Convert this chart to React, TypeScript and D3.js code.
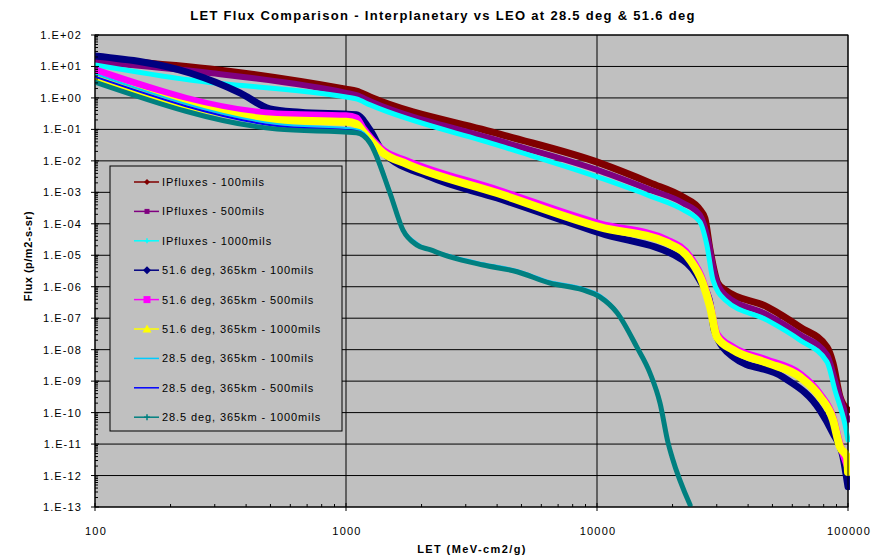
import React from 'react';
import * as d3 from 'd3';

type Pt = [number, number];

// LET (MeV-cm2/g) vs integral flux (p/m2-s-sr)
const ipFlux100: Pt[] = [
  [100, 17.4], [287, 8.3], [1000, 1.9], [1100, 1.66], [1247, 1.07], [4100, 7.1e-2],
  [10280, 8.5e-3], [16300, 2.0e-3], [22000, 7.1e-4], [25700, 2.8e-4], [26900, 1.5e-4],
  [28200, 1.5e-5], [30300, 1.3e-6], [32400, 7.9e-7], [47600, 2.3e-7], [64400, 5.2e-8],
  [82500, 1.2e-8], [87100, 3.8e-9], [92900, 3.2e-10], [100000, 1.2e-10],
];
const ipFlux500: Pt[] = [
  [100, 13.8], [287, 6.2], [1000, 1.45], [1100, 1.23], [1247, 0.79], [4100, 4.3e-2],
  [10280, 4.8e-3], [16300, 1.2e-3], [22000, 4.6e-4], [25700, 1.9e-4], [27700, 3.1e-5],
  [29500, 2.3e-6], [32400, 5.5e-7], [47600, 1.3e-7], [64400, 3.0e-8], [82500, 6.8e-9],
  [88700, 1.1e-9], [94600, 2.0e-10], [100000, 5.9e-11],
];
const ipFlux1000: Pt[] = [
  [100, 11.2], [239, 3.7], [1000, 1.07], [1100, 0.93], [1247, 0.6], [4100, 3.0e-2],
  [10280, 2.9e-3], [16300, 7.6e-4], [22000, 2.8e-4], [25700, 1.15e-4], [27400, 2.1e-5],
  [29000, 1.6e-6], [32400, 3.8e-7], [47600, 8.7e-8], [64400, 2.0e-8], [82500, 4.1e-9],
  [88700, 5.2e-10], [97300, 4.1e-11], [100000, 1.35e-11],
];
const leo516_100: Pt[] = [
  [100, 21.4], [239, 6.2], [378, 1.45], [498, 0.45], [656, 0.35], [1100, 0.29],
  [1247, 9.5e-2], [1404, 1.9e-2], [2161, 3.1e-3], [4000, 6.6e-4], [10280, 5.1e-5],
  [22000, 7.1e-6], [25700, 1.6e-6], [28200, 3.0e-7], [29300, 4.3e-8], [34800, 5.9e-9],
  [55100, 1.35e-9], [77300, 1.2e-10], [87100, 2.2e-11], [95500, 3.9e-12], [100000, 4.4e-13],
];
const leo516_500: Pt[] = [
  [100, 7.8], [531, 0.31], [1000, 0.27], [1100, 0.23], [1169, 1.1e-1], [1404, 2.2e-2],
  [1750, 1.0e-2], [4000, 1.2e-3], [10280, 1.0e-4], [19000, 3.1e-5], [23500, 8.9e-6],
  [26400, 1.6e-6], [28200, 2.8e-7], [30060, 3.2e-8], [34800, 1.2e-8], [47600, 4.7e-9],
  [64400, 1.7e-9], [77300, 3.9e-10], [87100, 7.2e-11], [92900, 1.0e-11], [100000, 1.7e-12],
];
const leo516_1000: Pt[] = [
  [100, 4.3], [531, 0.2], [1000, 0.174], [1100, 0.148], [1169, 8.5e-2], [1404, 1.8e-2],
  [1750, 7.9e-3], [4000, 9.5e-4], [10280, 7.9e-5], [19000, 2.5e-5], [23500, 7.1e-6],
  [26400, 1.3e-6], [28200, 2.3e-7], [30060, 2.5e-8], [34800, 9.8e-9], [47600, 3.8e-9],
  [64400, 1.35e-9], [77300, 3.2e-10], [87100, 5.9e-11], [92900, 8.1e-12], [99100, 3.9e-12],
  [100000, 1.3e-12],
];
const leo285_100: Pt[] = [
  [100, 5.8], [531, 0.148], [1100, 0.102], [1247, 4.6e-2], [1497, 1.2e-3], [1687, 7.4e-5],
  [1918, 2.5e-5], [2595, 1.0e-5], [3516, 5.6e-6], [4800, 3.4e-6], [6500, 1.5e-6],
  [8790, 9.1e-7], [10280, 5.5e-7], [12020, 1.7e-7], [14420, 1.4e-8], [16260, 2.1e-9],
  [17830, 2.3e-10], [18500, 4.1e-11],
];
const leo285_500: Pt[] = [
  [100, 4.7], [531, 0.129], [1100, 8.9e-2], [1247, 4.3e-2], [1497, 1.1e-3], [1687, 6.9e-5],
  [1918, 2.3e-5], [2595, 9.5e-6], [3516, 5.2e-6], [4800, 3.2e-6], [6500, 1.4e-6],
  [8790, 8.5e-7], [10280, 5.1e-7], [12020, 1.6e-7], [14420, 1.3e-8], [16260, 1.95e-9],
  [17830, 2.2e-10], [19190, 1.2e-11], [19900, 3.9e-12],
];
const leo285_1000: Pt[] = [
  [100, 3.2], [531, 0.102], [1100, 7.8e-2], [1247, 3.7e-2], [1497, 9.5e-4], [1687, 6.3e-5],
  [1918, 2.1e-5], [2161, 1.5e-5], [2595, 8.9e-6], [3516, 4.9e-6], [4800, 3.0e-6],
  [6500, 1.3e-6], [8790, 7.9e-7], [10280, 4.7e-7], [12020, 1.5e-7], [14420, 1.2e-8],
  [16260, 1.8e-9], [17830, 2.0e-10], [19190, 1.1e-11], [19900, 3.9e-12], [23500, 1.15e-13],
];

const seriesNames = [
  'IPfluxes - 100mils',
  'IPfluxes - 500mils',
  'IPfluxes - 1000mils',
  '51.6 deg, 365km - 100mils',
  '51.6 deg, 365km - 500mils',
  '51.6 deg, 365km - 1000mils',
  '28.5 deg, 365km - 100mils',
  '28.5 deg, 365km - 500mils',
  '28.5 deg, 365km - 1000mils',
];
const seriesData = [
  ipFlux100, ipFlux500, ipFlux1000,
  leo516_100, leo516_500, leo516_1000,
  leo285_100, leo285_500, leo285_1000,
];

const xTickValues = [100, 1000, 10000, 100000];
const xTickLabels = ['100', '1000', '10000', '100000'];
const yExponents = [2, 1, 0, -1, -2, -3, -4, -5, -6, -7, -8, -9, -10, -11, -12, -13];

type Style = { color: string; width: number; marker: string; msize: number };
const styles: Style[] = [
  { color: '#800000', width: 7, marker: 'diamond', msize: 6 },
  { color: '#800080', width: 6, marker: 'square', msize: 5 },
  { color: '#00FFFF', width: 5, marker: 'plus', msize: 5 },
  { color: '#000080', width: 7, marker: 'diamond', msize: 8 },
  { color: '#FF00FF', width: 7, marker: 'square', msize: 7 },
  { color: '#FFFF00', width: 8, marker: 'triangle', msize: 9 },
  { color: '#00CCFF', width: 2, marker: 'none', msize: 0 },
  { color: '#0000FF', width: 2, marker: 'none', msize: 0 },
  { color: '#008080', width: 5, marker: 'plus', msize: 6 },
];

const W = 873;
const H = 559;
const left = 95;
const right = 848;
const top = 35;
const bottom = 507;
const FONT = '"Liberation Sans", Arial, sans-serif';

function Marker({ kind, cx, cy, size, color }: { kind: string; cx: number; cy: number; size: number; color: string }) {
  const h = size / 2;
  if (kind === 'diamond')
    return <path d={`M${cx},${cy - h}L${cx + h},${cy}L${cx},${cy + h}L${cx - h},${cy}Z`} fill={color} />;
  if (kind === 'square') return <rect x={cx - h} y={cy - h} width={size} height={size} fill={color} />;
  if (kind === 'triangle')
    return <path d={`M${cx},${cy - h}L${cx + h},${cy + h * 0.8}L${cx - h},${cy + h * 0.8}Z`} fill={color} />;
  if (kind === 'plus')
    return <path d={`M${cx},${cy - h}V${cy + h}M${cx - h},${cy}H${cx + h}`} stroke={color} strokeWidth={1.5} />;
  return null;
}

export default function App() {
  const x = d3.scaleLog().domain([100, 100000]).range([left, right]);
  const y = d3.scaleLog().domain([1e-13, 1e2]).range([bottom, top]);
  const line = d3
    .line<Pt>()
    .x((d) => x(d[0]))
    .y((d) => y(d[1]))
    .curve(d3.curveMonotoneX);

  const xMinor: number[] = [];
  for (let e = 2; e < 5; e++) for (let m = 2; m <= 9; m++) xMinor.push(m * Math.pow(10, e));
  const yMinor: number[] = [];
  for (let e = -13; e < 2; e++) for (let m = 2; m <= 9; m++) yMinor.push(m * Math.pow(10, e));

  const legendX = 110;
  const legendY = 166;
  const rowH = 29.4;

  return (
    <svg width={W} height={H} style={{ position: 'absolute', left: 0, top: 0, background: '#fff' }} fontFamily={FONT}>
      <defs>
        <clipPath id="plotClip">
          <rect x={left} y={top - 2} width={right - left + 2} height={bottom - top + 2} />
        </clipPath>
      </defs>
      <text x={443} y={20} textAnchor="middle" fontSize={13} fontWeight="bold" letterSpacing={1.3} fill="#000">
        LET Flux Comparison - Interplanetary vs LEO at 28.5 deg &amp; 51.6 deg
      </text>

      <rect x={left} y={top} width={right - left} height={bottom - top} fill="#C0C0C0" />
      {yExponents.map((e) => (
        <line key={'gy' + e} x1={left} x2={right} y1={y(Math.pow(10, e))} y2={y(Math.pow(10, e))} stroke="#000" strokeWidth={1} />
      ))}
      {xTickValues.map((v) => (
        <line key={'gx' + v} x1={x(v)} x2={x(v)} y1={top} y2={bottom} stroke="#000" strokeWidth={1} />
      ))}

      <g clipPath="url(#plotClip)" fill="none" strokeLinejoin="round" strokeLinecap="round">
        {seriesData.map((d, i) => (
          <path key={'s' + i} d={line(d) || ''} stroke={styles[i].color} strokeWidth={styles[i].width} />
        ))}
      </g>

      <rect x={left} y={top} width={right - left} height={bottom - top} fill="none" stroke="#000" strokeWidth={1} />

      {/* y axis ticks and labels */}
      {yMinor.map((v, i) => (
        <line key={'ym' + i} x1={left} x2={left + 3} y1={y(v)} y2={y(v)} stroke="#000" />
      ))}
      {yExponents.map((e) => (
        <g key={'yl' + e}>
          <line x1={left - 4} x2={left + 4} y1={y(Math.pow(10, e))} y2={y(Math.pow(10, e))} stroke="#000" />
          <text x={82} y={y(Math.pow(10, e)) + 4} textAnchor="end" fontSize={11} letterSpacing={1.1} fill="#000">
            {'1.E' + (e >= 0 ? '+' : '-') + String(Math.abs(e)).padStart(2, '0')}
          </text>
        </g>
      ))}

      {/* x axis ticks and labels */}
      {xMinor.map((v, i) => (
        <line key={'xm' + i} x1={x(v)} x2={x(v)} y1={bottom} y2={bottom - 3} stroke="#000" />
      ))}
      {xTickValues.map((v, i) => (
        <g key={'xl' + v}>
          <line x1={x(v)} x2={x(v)} y1={bottom - 4} y2={bottom + 4} stroke="#000" />
          <text x={x(v) + 1} y={535} textAnchor="middle" fontSize={11} letterSpacing={1.2} fill="#000">
            {xTickLabels[i]}
          </text>
        </g>
      ))}

      <text x={472} y={553} textAnchor="middle" fontSize={11} fontWeight="bold" letterSpacing={1.4} fill="#000">
        LET (MeV-cm2/g)
      </text>
      <text
        transform={`translate(32,256) rotate(-90)`}
        textAnchor="middle"
        fontSize={11}
        fontWeight="bold"
        letterSpacing={0.5}
        fill="#000"
      >
        Flux (p/m2-s-sr)
      </text>

      {/* legend */}
      <rect x={legendX} y={legendY} width={232} height={265} fill="#C0C0C0" stroke="#000" strokeWidth={1} />
      {seriesNames.map((name, i) => {
        const cy = legendY + 16 + i * rowH;
        const st = styles[i];
        return (
          <g key={'lg' + i}>
            <line x1={134} x2={159} y1={cy} y2={cy} stroke={st.color} strokeWidth={1.5} />
            <Marker kind={st.marker} cx={147} cy={cy} size={st.msize} color={st.color} />
            <text x={162} y={cy + 4} fontSize={11} letterSpacing={0.9} fill="#000">
              {name}
            </text>
          </g>
        );
      })}
    </svg>
  );
}
